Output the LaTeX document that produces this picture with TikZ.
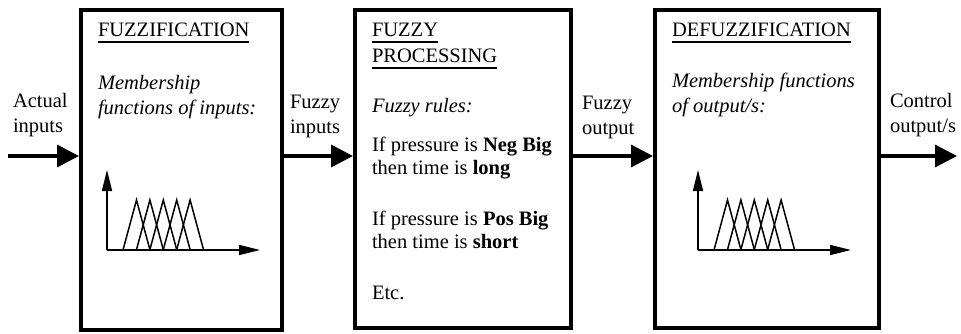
\documentclass[tikz,border=0pt]{standalone}
\usepackage{fontspec}
\setmainfont{Liberation Serif}
\usetikzlibrary{arrows.meta}

\begin{document}
\begin{tikzpicture}[x=1pt,y=-1pt,
  txt/.style={anchor=base west, inner sep=0pt, outer sep=0pt,
              font=\fontsize{20.5}{25}\selectfont},
  ital/.style={txt, font=\fontsize{20.5}{25}\selectfont\itshape},
  stage/.style={draw, line width=4pt, inner sep=0pt},
  flow/.style={line width=3.5pt, -{Triangle[length=22pt,width=22pt]}},
  axis/.style={line width=1.5pt, -{Triangle[length=21pt,width=10pt]}},
  mf/.style={line width=1.5pt, line join=miter},
  uline/.style={line width=1.3pt}]

\useasboundingbox (0,0) rectangle (961,334);

% the three processing stages
\node[stage, minimum width=201pt, minimum height=320pt] (fuzz) at (181.5,170) {};
\node[stage, minimum width=216pt, minimum height=318pt] (proc) at (463,169) {};
\node[stage, minimum width=224pt, minimum height=318pt] (defuzz) at (767,169) {};

% signal flow between the stages
\coordinate (src) at (8,156);
\coordinate (dst) at (957,156);
\draw[flow] (src) -- (src -| fuzz.west);
\draw[flow] (fuzz.east |- src) -- (proc.west |- src);
\draw[flow] (proc.east |- src) -- (defuzz.west |- src);
\draw[flow] (defuzz.east |- src) -- (dst);

% signal labels
\node[txt] (act1) at (13,108) {Actual};
\node[txt] (act2) at (13,132) {inputs};
\node[txt] (fin1) at (290,109) {Fuzzy};
\node[txt] (fin2) at (290,134) {inputs};
\node[txt] (fout1) at (582,110) {Fuzzy};
\node[txt] (fout2) at (582,135) {output};
\node[txt] (cout1) at (890,108) {Control};
\node[txt] (cout2) at (890,133) {output/s};

% fuzzification stage
\node[txt] (h1) at (98,37) {FUZZIFICATION};
\draw[uline] ([yshift=-5pt]h1.base west) -- ([yshift=-5pt]h1.base east);
\node[ital] (m1a) at (98,90) {Membership};
\node[ital] (m1b) at (98,115) {functions of inputs:};

% fuzzy processing stage
\node[txt] (h2a) at (372,37) {FUZZY};
\draw[uline] ([yshift=-5pt]h2a.base west) -- ([yshift=-5pt]h2a.base east);
\node[txt] (h2b) at (372,63) {PROCESSING};
\draw[uline] ([yshift=-5pt]h2b.base west) -- ([yshift=-5pt]h2b.base east);
\node[ital] (rules) at (372,113) {Fuzzy rules:};
\node[txt] (r1a) at (372,152) {If pressure is \textbf{Neg Big}};
\node[txt] (r1b) at (372,175) {then time is \textbf{long}};
\node[txt] (r2a) at (372,225) {If pressure is \textbf{Pos Big}};
\node[txt] (r2b) at (372,248) {then time is \textbf{short}};
\node[txt] (etc) at (372,299) {Etc.};

% defuzzification stage
\node[txt] (h3) at (672,37) {DEFUZZIFICATION};
\draw[uline] ([yshift=-5pt]h3.base west) -- ([yshift=-5pt]h3.base east);
\node[ital] (m3a) at (672,88) {Membership functions};
\node[ital] (m3b) at (672,113) {of output/s:};

% membership function plots
\foreach \ox in {107,698} {
  \begin{scope}[xshift=\ox pt]
    \draw[axis] (0,250) -- (0,170);
    \draw[axis] (0,250) -- (153,250);
    \foreach \k in {0,...,4}
      \draw[mf] ({16+13.4*\k},250) -- ++(13.5,-50) -- ++(13.5,50);
  \end{scope}
}
\end{tikzpicture}
\end{document}
